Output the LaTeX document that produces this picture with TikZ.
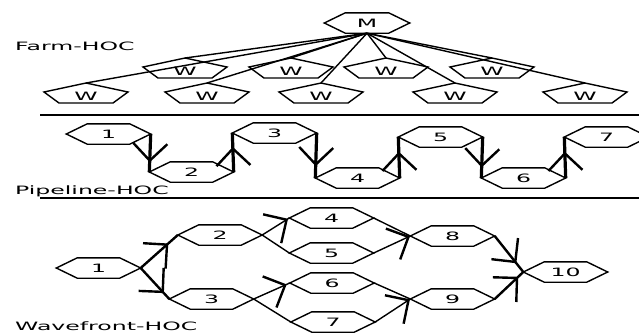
\documentclass[tikz,border=0pt]{standalone}
\usepackage{fontspec}
\newfontfamily\hocfont{DejaVu Sans}[FakeStretch=2.05]
\usetikzlibrary{calc, decorations.markings}

\begin{document}
\begin{tikzpicture}[
    x=1pt, y=-1pt,
    stage/.style={rectangle, inner sep=0pt, minimum width=84pt, minimum height=20pt,
        font=\hocfont\fontsize{11.5}{12}\selectfont},
    worker/.style={inner sep=0pt, font=\hocfont\fontsize{11.5}{12}\selectfont},
    title_style/.style={anchor=base west, inner sep=0pt, font=\hocfont\fontsize{11.5}{12}\selectfont},
    link/.style={line width=1.4pt},
    flow/.style={line width=2.4pt},
    pipe/.style={line width=3.2pt},
    vee/.style={postaction={decorate}, decoration={markings, mark=at position #1 with
        {\draw[line width=2.4pt] (-17pt,17pt) -- (0pt,0pt) -- (-17pt,-17pt);}}}
]
\useasboundingbox (0,0) rectangle (639,333);

% Farm-HOC
\node[title_style] (farm) at (15,50) {Farm-HOC};
\node[stage, minimum width=85pt] (m) at (367,23) {M};
\node[worker] (w1) at (185,71) {W};
\node[worker] (w2) at (291,71) {W};
\node[worker] (w3) at (386,71) {W};
\node[worker] (w4) at (492,71) {W};
\node[worker] (w5) at (86,96) {W};
\node[worker] (w6) at (207,96) {W};
\node[worker] (w7) at (321,96) {W};
\node[worker] (w8) at (455,96) {W};
\node[worker] (w9) at (585,96) {W};
\foreach \w in {w1,w2,w3,w4,w5,w6,w7,w8,w9}
  \draw[link] ($(\w)+(0,-13)$) -- ($(\w)+(42,-4)$) -- ($(\w)+(27,7)$)
    -- ($(\w)+(-27,7)$) -- ($(\w)+(-42,-4)$) -- cycle;
\foreach \w in {w1,w2,w3,w4,w5,w6,w7,w8,w9}
  \draw[link] (m.south) -- ([yshift=13pt]\w.center);

\draw[line width=1.2pt] (40,115) -- (639,115);

% Pipeline-HOC
\node[title_style] (pipeline) at (15,194) {Pipeline-HOC};
\node[stage] (p1) at (108.5,134) {1};
\node[stage] (p2) at (191.5,172) {2};
\node[stage] (p3) at (274.5,133) {3};
\node[stage] (p4) at (357.5,178) {4};
\node[stage] (p5) at (440.5,137) {5};
\node[stage] (p6) at (523.5,178) {6};
\node[stage] (p7) at (606.5,137) {7};
\draw[pipe, vee=0.7] (p1.east) -- (p2.west);
\draw[pipe, vee=0.6] (p2.east) -- (p3.west);
\draw[pipe, vee=0.7] (p3.east) -- (p4.west);
\draw[pipe, vee=0.6] (p4.east) -- (p5.west);
\draw[pipe, vee=0.7] (p5.east) -- (p6.west);
\draw[pipe, vee=0.6] (p6.east) -- (p7.west);

\draw[line width=1.2pt] (40,198) -- (639,198);

% Wavefront-HOC
\node[title_style] (wavefront) at (15,330) {Wavefront-HOC};
\node[stage] (f1) at (98.5,268) {1};
\node[stage] (f2) at (220,235) {2};
\node[stage] (f3) at (211.5,299) {3};
\node[stage] (f4) at (331.5,218) {4};
\node[stage] (f5) at (331.5,253) {5};
\node[stage] (f6) at (332,283) {6};
\node[stage] (f7) at (333,322) {7};
\node[stage] (f8) at (452.5,236) {8};
\node[stage] (f9) at (452.5,299) {9};
\node[stage] (f10) at (565.5,272) {10};

% hexagon outlines
\foreach \s in {m,p1,p2,p3,p4,p5,p6,p7,f1,f2,f3,f4,f5,f6,f7,f8,f9,f10}
  \draw[link] (\s.west) -- ([xshift=21pt]\s.north west) -- ([xshift=-21pt]\s.north east)
    -- (\s.east) -- ([xshift=-21pt]\s.south east) -- ([xshift=21pt]\s.south west) -- cycle;

\draw[flow, vee=0.71] (f1.east) -- (f2.west);
\draw[flow, vee=0.77] (f1.east) -- (f3.west);
\draw[link, vee=0.9] (f2.east) -- (f4.west);
\draw[link] (f2.east) -- (f5.west);
\draw[link, vee=0.87] (f3.east) -- (f6.west);
\draw[link] (f3.east) -- (f7.west);
\draw[link] (f4.east) -- (f8.west);
\draw[link, vee=0.95] (f5.east) -- (f8.west);
\draw[link] (f6.east) -- (f9.west);
\draw[link, vee=0.95] (f7.east) -- (f9.west);
\draw[flow, vee=0.72] (f8.east) -- (f10.west);
\draw[flow, vee=0.78] (f9.east) -- (f10.west);
\end{tikzpicture}
\end{document}
